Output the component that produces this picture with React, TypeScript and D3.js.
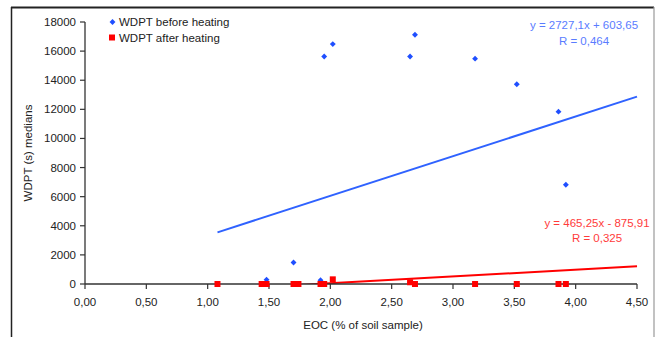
import React from "react";
import * as d3 from "d3";

const eocBefore = [1.08, 1.44, 1.48, 1.7, 1.74, 1.92, 1.95, 2.02, 2.65, 2.69, 3.18, 3.52, 3.86, 3.92];
const wdptBefore = [0, 0, 300, 1480, 0, 260, 15630, 16480, 15630, 17120, 15480, 13720, 11840, 6820];
const eocAfter = [1.08, 1.44, 1.48, 1.7, 1.74, 1.92, 1.95, 2.02, 2.65, 2.69, 3.18, 3.52, 3.86, 3.92];
const wdptAfter = [0, 0, 0, 0, 0, 0, 0, 320, 120, 0, 0, 0, 0, 0];
const xTicks = [0, 0.5, 1, 1.5, 2, 2.5, 3, 3.5, 4, 4.5];
const yTicks = [0, 2000, 4000, 6000, 8000, 10000, 12000, 14000, 16000, 18000];
const trendBefore = { slope: 2727.1, intercept: 603.65, label: "y = 2727,1x + 603,65", r: "R = 0,464" };
const trendAfter = { slope: 465.25, intercept: -875.91, label: "y = 465,25x - 875,91", r: "R = 0,325" };
const seriesNames = ["WDPT before heating", "WDPT after heating"];

const BLUE = "#1f4fff";
const BLUE_LINE = "#2f62ff";
const BLUE_TEXT = "#5a7cff";
const RED = "#ff0000";
const RED_TEXT = "#ff3b3b";
const FONT = "'Liberation Sans', Arial, sans-serif";

export default function App() {
  const W = 660, H = 337;
  const left = 85, right = 637, top = 22, bottom = 284;
  const x = d3.scaleLinear().domain([0, 4.5]).range([left, right]);
  const y = d3.scaleLinear().domain([0, 18000]).range([bottom, top]);
  const fmtX = (v: number) => v.toFixed(2).replace(".", ",");
  const line = d3.line<number>().x((d) => x(d)).y((d) => 0);
  const xmin = d3.min(eocBefore) as number;
  const xmax = 4.5;
  const tl = (t: { slope: number; intercept: number }) =>
    d3.line<number>().x((d) => x(d)).y((d) => y(t.slope * d + t.intercept))([xmin, xmax]) as string;
  void line;
  const diamond = d3.symbol().type(d3.symbolDiamond2).size(22)() as string;
  const fs = 11.5;
  return (
    <svg width={W} height={H} style={{ position: "absolute", left: 0, top: 0 }}>
      <defs>
        <clipPath id="plot">
          <rect x={left} y={top - 10} width={right - left + 5} height={bottom - top + 10} />
        </clipPath>
      </defs>
      <rect x={0} y={0} width={W} height={H} fill="#fff" />
      <line x1={11} y1={7.5} x2={654} y2={7.5} stroke="#222" strokeWidth={2} />
      <line x1={11.5} y1={7} x2={11.5} y2={H} stroke="#222" strokeWidth={1.5} />
      <line x1={654} y1={7} x2={654} y2={H} stroke="#999" strokeWidth={1.2} />

      {/* trend lines */}
      <g clipPath="url(#plot)">
        <path d={tl(trendBefore)} stroke={BLUE_LINE} strokeWidth={2} fill="none" />
        <path d={tl(trendAfter)} stroke={RED} strokeWidth={2} fill="none" />
      </g>

      {/* axes */}
      <line x1={left} y1={top} x2={left} y2={bottom} stroke="#333" strokeWidth={1.3} />
      <line x1={left} y1={bottom} x2={right} y2={bottom} stroke="#333" strokeWidth={1.3} />
      {yTicks.map((t) => (
        <g key={"y" + t}>
          <line x1={left - 5} x2={left} y1={y(t)} y2={y(t)} stroke="#333" strokeWidth={1.2} />
          <text x={left - 9} y={y(t) + 4} textAnchor="end" fontFamily={FONT} fontSize={fs} fill="#222">
            {t}
          </text>
        </g>
      ))}
      {xTicks.map((t) => (
        <g key={"x" + t}>
          <line x1={x(t)} x2={x(t)} y1={bottom} y2={bottom + 5} stroke="#333" strokeWidth={1.2} />
          <text x={x(t)} y={bottom + 22} textAnchor="middle" fontFamily={FONT} fontSize={fs} fill="#222">
            {fmtX(t)}
          </text>
        </g>
      ))}
      <text x={363} y={329} textAnchor="middle" fontFamily={FONT} fontSize={fs} fill="#222">
        EOC (% of soil sample)
      </text>
      <text transform={`translate(32,${(top + bottom) / 2}) rotate(-90)`} textAnchor="middle" fontFamily={FONT} fontSize={fs} fill="#222">
        WDPT (s) medians
      </text>

      {/* points */}
      {eocBefore.map((v, i) => (
        <path key={"b" + i} d={diamond} transform={`translate(${x(v)},${y(wdptBefore[i])})`} fill={BLUE} />
      ))}
      {eocAfter.map((v, i) => (
        <rect key={"r" + i} x={x(v) - 3} y={y(wdptAfter[i]) - 3} width={6} height={6} fill={RED} />
      ))}

      {/* legend */}
      <path d={diamond} transform="translate(112.5,22)" fill={BLUE} />
      <text x={119} y={26} fontFamily={FONT} fontSize={fs} fill="#222">{seriesNames[0]}</text>
      <rect x={109} y={34.5} width={6} height={6} fill={RED} />
      <text x={119} y={42} fontFamily={FONT} fontSize={fs} fill="#222">{seriesNames[1]}</text>

      {/* equations */}
      <text x={584} y={29} textAnchor="middle" fontFamily={FONT} fontSize={fs} fill={BLUE_TEXT}>{trendBefore.label}</text>
      <text x={584} y={45} textAnchor="middle" fontFamily={FONT} fontSize={fs} fill={BLUE_TEXT}>{trendBefore.r}</text>
      <text x={597} y={227} textAnchor="middle" fontFamily={FONT} fontSize={fs} fill={RED_TEXT}>{trendAfter.label}</text>
      <text x={597} y={242} textAnchor="middle" fontFamily={FONT} fontSize={fs} fill={RED_TEXT}>{trendAfter.r}</text>
    </svg>
  );
}
